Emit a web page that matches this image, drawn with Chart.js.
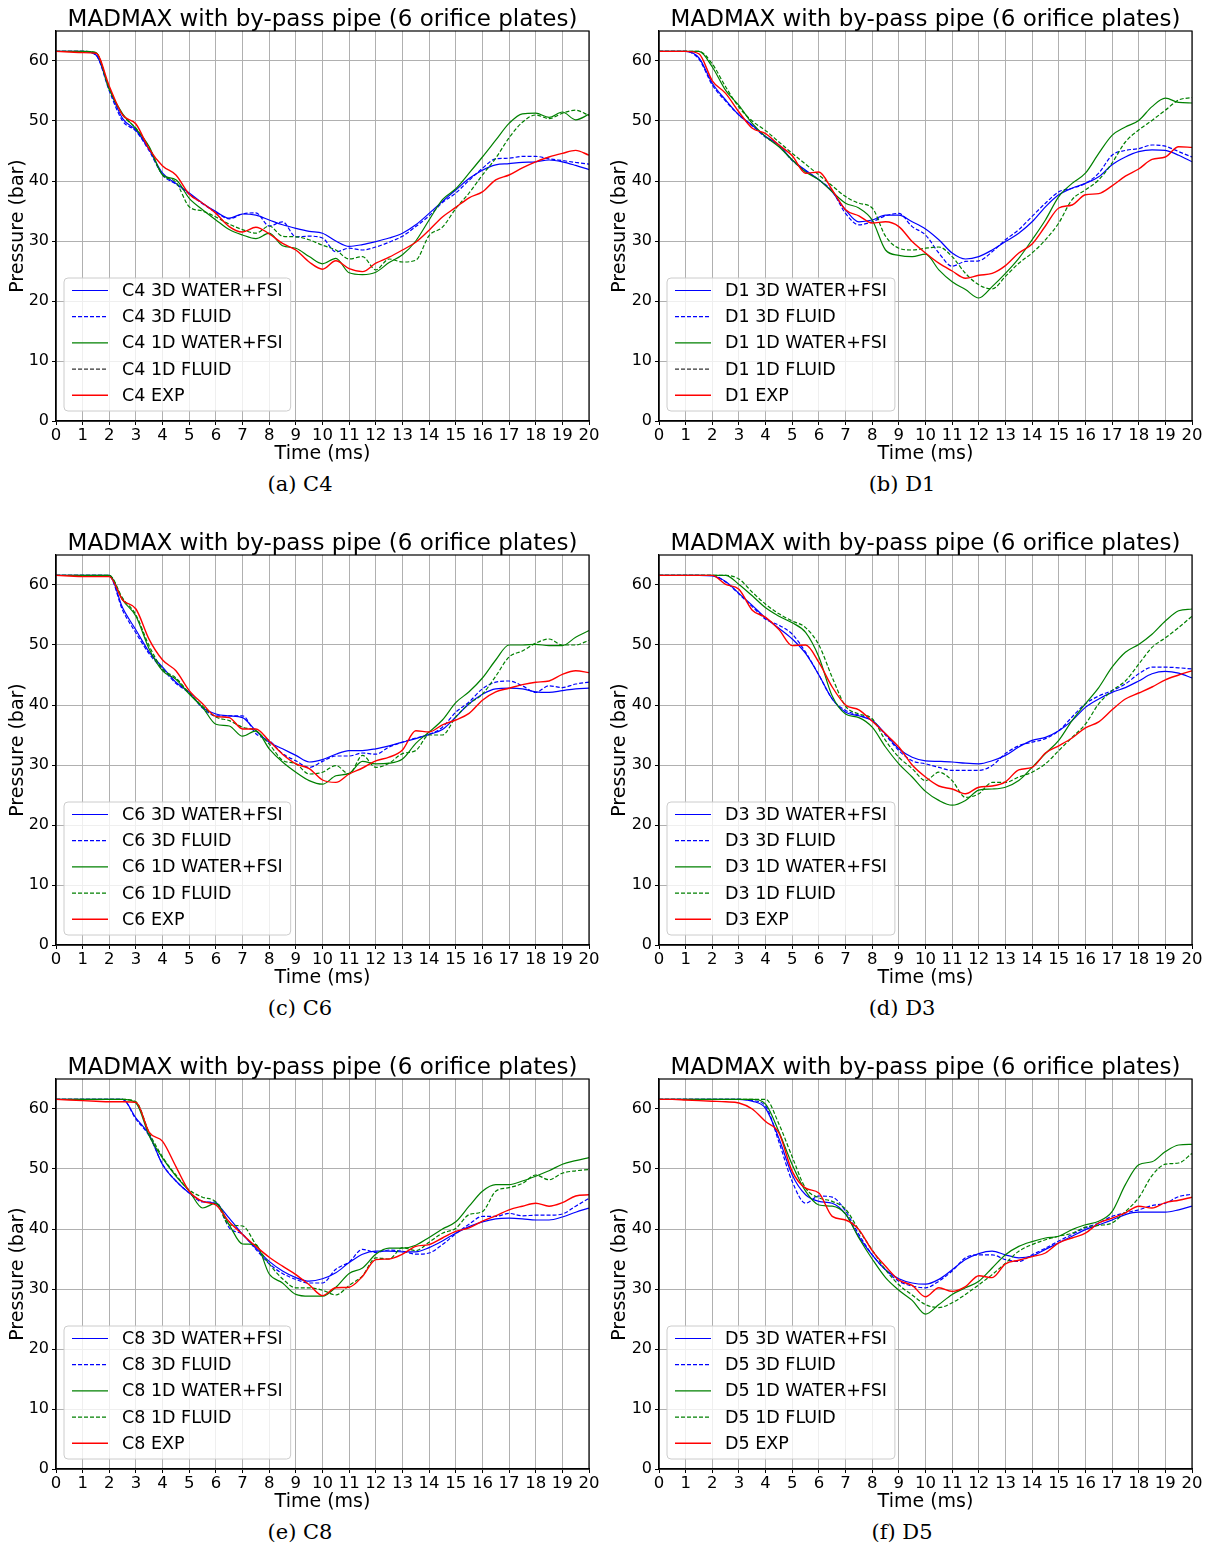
<!DOCTYPE html>
<html>
<head>
<meta charset="utf-8">
<script src="https://cdn.jsdelivr.net/npm/chart.js@4.4.1/dist/chart.umd.min.js"></script>
<style>
  body { margin: 0; background: #fff; width: 1212px; height: 1546px; position: relative; overflow: hidden; }
  canvas { position: absolute; }
  .ttl { position: absolute; font-family: "DejaVu Sans"; font-size: 23px; line-height: 23px; white-space: nowrap; transform: translateX(-50%); color: #000; }
  .cap { position: absolute; font-family: "DejaVu Serif"; font-size: 21px; line-height: 21px; white-space: nowrap; transform: translateX(-50%); color: #000; }
</style>
</head>
<body>
<script>
// sample times (ms), one value every 0.5 ms
const times = [0,0.5,1,1.5,2,2.5,3,3.5,4,4.5,5,5.5,6,6.5,7,7.5,8,8.5,9,9.5,10,10.5,11,11.5,12,12.5,13,13.5,14,14.5,15,15.5,16,16.5,17,17.5,18,18.5,19,19.5,20];
const xTicks = [0,1,2,3,4,5,6,7,8,9,10,11,12,13,14,15,16,17,18,19,20];
const yTicks = [0,10,20,30,40,50,60];
const seriesNames = ["3D WATER+FSI", "3D FLUID", "1D WATER+FSI", "1D FLUID", "EXP"];
const plotTitle = "MADMAX with by-pass pipe (6 orifice plates)";

// (a) C4
const c4Water3d = [61.6,61.6,61.6,61.0,55.4,50.4,48.5,45.2,41.3,39.6,38.0,36.3,34.9,33.8,34.5,34.3,33.5,32.7,32.1,31.6,31.3,30.0,29.1,29.4,29.9,30.5,31.3,32.7,34.6,36.6,38.5,40.4,41.8,42.7,42.9,43.1,43.2,43.5,43.2,42.6,41.9];
const c4Fluid3d = [61.6,61.6,61.6,61.0,55.0,50.0,48.3,45.0,41.0,39.5,37.8,36.2,34.8,33.7,34.5,34.7,32.5,33.2,30.7,30.8,30.5,28.2,28.8,28.5,29.0,29.8,30.8,32.4,34.2,36.4,38.0,40.1,42.1,43.7,43.8,44.1,44.1,43.7,43.4,43.1,42.8];
const c4Water1d = [61.6,61.6,61.6,61.4,55.3,51.2,48.7,45.7,41.0,40.2,37.1,35.2,33.5,31.9,31.0,30.4,31.3,29.2,28.8,27.4,26.2,27.1,24.7,24.4,24.8,26.4,27.7,30.0,33.5,36.9,38.7,41.3,44.0,46.8,49.6,51.2,51.3,50.6,51.5,50.2,51.1];
const c4Fluid1d = [61.6,61.6,61.6,61.4,55.3,51.0,48.8,45.5,41.0,39.8,35.7,35.0,34.0,32.8,31.9,31.3,32.5,30.8,30.7,30.2,29.3,28.5,27.0,27.4,25.2,27.0,26.5,26.8,30.9,32.3,35.4,38.0,41.0,43.8,47.2,49.8,51.0,50.4,51.3,51.8,50.9];
const c4Exp = [61.6,61.5,61.4,61.3,55.8,51.0,49.5,45.3,42.5,41.0,37.8,36.3,34.6,32.4,31.5,32.3,31.2,29.6,28.5,26.5,25.3,26.7,25.4,24.9,26.3,27.3,28.5,29.8,31.8,34.0,35.6,37.2,38.2,40.2,41.0,42.2,43.2,44.0,44.6,45.1,44.3];

// (b) D1
const d1Water3d = [61.6,61.6,61.6,60.5,56.3,53.5,51.0,49.3,47.4,46.0,43.5,41.8,40.2,38.2,35.2,33.2,33.5,34.3,34.3,33.2,32.0,30.2,28.0,27.0,27.4,28.5,29.9,31.3,33.2,35.7,37.7,38.8,39.6,40.7,42.7,44.0,44.9,45.2,45.1,44.3,43.2];
const d1Fluid3d = [61.6,61.6,61.6,60.3,56.0,53.3,51.0,49.2,47.3,45.9,43.4,41.7,40.2,38.3,34.6,32.7,33.2,34.2,34.6,32.4,31.0,28.0,25.8,26.6,26.7,28.2,30.2,31.9,34.1,36.3,38.2,38.8,39.6,41.3,44.3,45.1,45.4,46.0,45.8,44.9,44.0];
const d1Water1d = [61.6,61.6,61.6,61.6,59.0,55.1,52.6,49.6,47.4,45.7,43.5,41.5,40.2,38.2,36.3,35.5,33.5,28.5,27.6,27.4,27.8,25.2,23.2,21.9,20.5,22.4,24.6,27.1,30.2,33.5,37.4,39.6,41.3,44.6,47.6,49.0,50.1,52.4,53.8,53.1,53.0];
const d1Fluid1d = [61.6,61.6,61.6,61.6,59.5,55.7,52.3,50.0,48.4,46.5,44.6,42.8,41.0,39.2,37.4,36.3,35.5,30.8,28.8,28.5,28.8,29.0,27.4,24.6,22.7,22.0,24.1,26.3,28.0,30.2,33.0,36.9,38.5,40.2,43.0,46.5,48.5,50.1,51.8,53.5,53.9];
const d1Exp = [61.6,61.6,61.6,61.2,56.7,54.6,51.5,48.8,47.9,46.0,44.2,41.3,41.5,38.5,35.2,34.2,33.0,33.2,32.4,29.9,28.0,26.3,25.0,23.8,24.3,24.6,25.9,28.0,29.5,32.5,35.5,36.0,37.7,37.9,39.2,40.8,42.0,43.6,44.0,45.7,45.6];

// (c) C6
const c6Water3d = [61.6,61.6,61.6,61.6,61.6,56.2,52.5,48.8,46.3,43.8,42.1,39.6,38.5,38.2,37.9,35.7,33.8,32.7,31.6,30.5,30.9,31.8,32.4,32.4,32.7,33.2,33.8,34.4,35.1,35.9,38.0,40.2,41.8,42.7,42.8,42.7,42.2,42.1,42.4,42.7,42.8];
const c6Fluid3d = [61.6,61.6,61.6,61.6,61.5,55.8,52.0,48.5,46.0,43.6,42.0,39.5,38.2,38.2,38.2,35.2,34.1,31.9,30.7,29.6,30.6,31.5,31.5,32.0,31.8,33.0,33.8,34.5,35.1,36.3,38.8,40.5,42.7,43.8,44.0,43.2,42.1,43.2,42.9,43.5,43.8];
const c6Water1d = [61.6,61.6,61.6,61.6,61.6,57.5,54.8,49.3,45.7,44.3,41.8,39.6,36.8,36.5,34.8,35.7,32.7,30.5,28.8,27.4,26.8,28.2,28.6,30.6,30.2,30.3,31.0,33.6,35.5,37.5,40.4,42.2,44.5,47.5,50.0,50.0,50.1,49.9,49.9,51.3,52.4];
const c6Fluid1d = [61.6,61.6,61.6,61.6,61.6,57.8,55.0,49.8,46.0,44.5,42.0,39.8,38.0,37.4,36.3,35.7,33.5,30.8,30.2,28.5,28.8,29.9,28.5,31.6,29.6,30.3,31.9,32.4,35.0,35.0,38.0,40.2,41.8,44.8,48.0,49.0,50.3,51.0,50.0,50.0,50.8];
const c6Exp = [61.6,61.5,61.4,61.4,61.4,57.5,56.0,50.9,47.5,45.7,42.4,40.2,38.1,37.9,36.0,36.0,34.0,31.8,30.2,29.4,27.5,27.1,28.5,29.5,30.7,31.3,32.5,35.7,35.5,36.7,37.5,38.6,40.8,42.2,42.8,43.4,43.8,44.0,45.1,45.7,45.4];

// (d) D3
const d3Water3d = [61.6,61.6,61.6,61.6,61.5,60.6,58.6,56.6,54.5,52.8,51.0,48.6,45.0,41.0,38.8,38.2,37.4,35.2,32.7,31.3,30.7,30.6,30.5,30.3,30.2,30.7,31.6,33.0,34.1,34.6,35.7,37.4,39.6,41.0,42.1,42.9,44.0,45.2,45.6,45.3,44.5];
const d3Fluid3d = [61.6,61.6,61.6,61.6,61.6,60.5,58.5,56.4,54.3,53.3,51.8,48.8,45.0,41.0,39.1,38.3,37.4,35.0,32.4,30.7,30.2,29.6,29.1,29.1,29.1,29.9,31.9,33.2,33.8,34.4,35.7,38.0,40.2,41.5,42.4,43.5,45.2,46.3,46.3,46.2,46.0];
const d3Water1d = [61.6,61.6,61.6,61.6,61.6,61.6,60.1,58.2,56.2,54.8,53.7,52.1,48.0,41.5,38.5,37.9,36.3,33.0,30.2,28.0,25.6,24.1,23.3,24.1,25.8,26.0,26.3,27.4,29.6,31.9,34.1,37.4,40.2,42.9,46.3,48.8,50.1,51.8,54.0,55.7,56.0];
const d3Fluid1d = [61.6,61.6,61.6,61.6,61.6,61.6,61.0,58.8,56.8,55.2,54.0,52.9,50.0,44.6,39.8,38.5,37.7,34.1,31.3,29.4,27.4,28.8,27.4,24.6,25.2,27.1,27.1,28.0,28.8,30.2,32.4,34.6,36.8,40.2,42.4,44.0,46.8,49.6,51.2,52.9,54.8];
const d3Exp = [61.6,61.6,61.6,61.6,61.6,60.1,59.3,55.8,54.6,52.6,49.9,50.0,47.1,43.0,40.0,39.2,37.3,35.2,33.0,30.0,28.0,26.5,26.0,25.2,26.3,26.5,27.2,29.2,29.6,32.0,33.2,34.5,36.2,37.2,39.2,41.0,42.0,43.0,44.2,45.0,45.7];

// (e) C8
const c8Water3d = [61.6,61.6,61.6,61.6,61.6,61.6,58.5,55.7,50.7,48.0,46.0,44.6,44.2,41.8,39.1,36.8,34.6,33.0,31.9,31.3,31.7,32.7,34.4,35.8,36.3,36.3,36.2,36.2,36.9,38.0,39.3,40.4,41.2,41.7,41.8,41.7,41.5,41.5,42.0,42.8,43.5];
const c8Fluid3d = [61.6,61.6,61.6,61.6,61.6,61.6,58.3,55.5,50.8,48.0,46.0,44.5,44.5,40.2,39.1,36.6,34.2,32.6,31.6,31.0,31.0,33.3,34.5,36.6,36.1,36.5,36.3,35.8,36.0,37.4,39.2,40.8,42.1,42.1,42.6,42.2,42.3,42.3,42.5,43.8,45.1];
const c8Water1d = [61.6,61.6,61.6,61.6,61.6,61.6,61.0,55.5,51.8,48.8,46.3,43.5,44.3,40.7,37.5,37.4,32.5,31.0,29.1,28.8,28.8,30.3,32.6,33.5,35.8,36.8,36.8,37.3,38.6,40.0,41.2,43.8,46.3,47.4,47.4,48.0,48.8,49.7,50.8,51.4,51.9];
const c8Fluid1d = [61.6,61.6,61.6,61.6,61.6,61.6,61.2,56.0,52.0,49.0,46.5,45.3,44.5,40.7,40.5,37.4,34.2,31.7,30.2,30.2,29.8,29.0,30.6,32.2,35.2,35.0,36.9,36.4,37.8,39.3,40.1,42.4,42.9,46.3,46.9,47.6,49.0,48.2,49.3,49.7,49.9];
const c8Exp = [61.6,61.5,61.4,61.3,61.2,61.2,61.1,56.1,54.6,50.4,46.3,44.6,44.0,41.2,39.1,37.1,35.3,33.8,32.4,30.7,28.9,30.2,30.3,32.1,34.9,35.0,35.8,37.1,37.4,38.5,39.6,40.2,41.3,42.2,43.2,43.8,44.3,43.8,44.4,45.5,45.7];

// (f) D5
const d5Water3d = [61.6,61.6,61.6,61.6,61.6,61.6,61.6,61.3,60.1,55.1,49.0,45.7,44.6,44.3,42.5,38.7,35.7,33.2,31.7,31.0,30.8,31.6,33.2,34.9,35.9,36.3,35.7,35.2,35.5,36.6,37.7,38.8,39.9,40.7,41.5,42.4,42.8,42.8,42.8,43.2,43.8];
const d5Fluid3d = [61.6,61.6,61.6,61.6,61.6,61.6,61.6,61.4,60.5,54.5,47.9,44.3,45.5,45.3,43.0,39.1,35.7,33.2,31.3,30.5,30.2,31.3,33.0,35.2,35.7,35.7,34.9,34.6,35.7,36.8,38.0,39.1,40.2,41.0,42.1,42.7,43.2,43.9,44.3,45.4,45.8];
const d5Water1d = [61.6,61.6,61.6,61.6,61.6,61.6,61.6,61.6,60.8,56.2,50.7,46.3,44.0,43.8,42.5,38.5,35.0,31.9,29.8,28.1,25.8,27.4,29.1,30.2,31.3,33.5,35.7,37.1,37.9,38.5,38.8,39.9,40.7,41.3,42.9,47.4,50.7,51.2,52.9,54.0,54.1];
const d5Fluid1d = [61.6,61.6,61.6,61.6,61.6,61.6,61.6,61.6,61.6,57.5,52.0,46.8,45.2,44.6,43.3,39.8,36.5,33.2,30.7,29.0,27.4,26.9,27.7,29.1,30.7,32.4,34.3,36.3,37.4,38.2,38.8,39.3,40.3,40.6,41.0,42.9,45.2,48.9,50.8,51.0,52.6];
const d5Exp = [61.6,61.6,61.5,61.4,61.3,61.2,61.0,60.0,57.9,56.0,49.6,46.8,46.0,42.1,41.5,39.9,36.4,33.8,31.5,30.6,28.7,30.2,29.6,30.4,32.2,31.9,34.2,34.8,35.4,36.0,37.7,38.5,39.3,41.0,41.8,42.7,43.8,43.5,44.4,44.8,45.3];

const panels = [
  { name: "C4", caption: "(a) C4", col: 0, row: 0, values: [c4Water3d, c4Fluid3d, c4Water1d, c4Fluid1d, c4Exp], fluidKey: "#333333" },
  { name: "D1", caption: "(b) D1", col: 1, row: 0, values: [d1Water3d, d1Fluid3d, d1Water1d, d1Fluid1d, d1Exp], fluidKey: "#333333" },
  { name: "C6", caption: "(c) C6", col: 0, row: 1, values: [c6Water3d, c6Fluid3d, c6Water1d, c6Fluid1d, c6Exp] },
  { name: "D3", caption: "(d) D3", col: 1, row: 1, values: [d3Water3d, d3Fluid3d, d3Water1d, d3Fluid1d, d3Exp] },
  { name: "C8", caption: "(e) C8", col: 0, row: 2, values: [c8Water3d, c8Fluid3d, c8Water1d, c8Fluid1d, c8Exp] },
  { name: "D5", caption: "(f) D5", col: 1, row: 2, values: [d5Water3d, d5Fluid3d, d5Water1d, d5Fluid1d, d5Exp] }
];

const styles = [
  { color: "#0000ff", dash: [], width: 1.2 },
  { color: "#0000ff", dash: [4, 2], width: 1.2 },
  { color: "#008000", dash: [], width: 1.2 },
  { color: "#008000", dash: [4, 2], width: 1.2 },
  { color: "#ff0000", dash: [], width: 1.4 }
];

const colLeft = [0, 606];
const rowTop = [0, 524, 1048];
const yAxisW = [56, 53];
const yTitlePad = [7, 3];
const rightPad = [17, 20];
const canvasW = 606, canvasH = 470, plotBottom = 421;

Chart.defaults.font.family = "'DejaVu Sans'";
Chart.defaults.color = "#000";

const framePlugin = {
  id: "frame",
  afterDatasetsDraw(chart) {
    const { ctx, chartArea: a } = chart;
    ctx.save();
    ctx.strokeStyle = "#000";
    ctx.lineWidth = 1.2;
    ctx.strokeRect(a.left, a.top, a.right - a.left, a.bottom - a.top);
    ctx.restore();
  }
};

function legendPlugin(panel) {
  return {
    id: "legendBox",
    afterDraw(chart) {
      const { ctx, chartArea: a } = chart;
      const sets = chart.data.datasets;
      ctx.save();
      ctx.font = "17.5px 'DejaVu Sans'";
      const textW = Math.max(...sets.map(d => ctx.measureText(d.label).width));
      const w = 58 + textW + 8, h = 133;
      const x = a.left + 8, y = a.bottom - 10 - h;
      ctx.beginPath();
      ctx.roundRect(x, y, w, h, 4);
      ctx.fillStyle = "rgba(255,255,255,0.8)";
      ctx.fill();
      ctx.strokeStyle = "#cccccc";
      ctx.lineWidth = 1;
      ctx.stroke();
      sets.forEach((d, i) => {
        const cy = y + 12.5 + i * 26.2;
        ctx.beginPath();
        ctx.strokeStyle = (i === 3 && panel.fluidKey) ? panel.fluidKey : d.borderColor;
        ctx.lineWidth = d.borderWidth;
        ctx.setLineDash(d.borderDash);
        ctx.moveTo(x + 8, cy);
        ctx.lineTo(x + 44, cy);
        ctx.stroke();
        ctx.setLineDash([]);
        ctx.fillStyle = "#000";
        ctx.textBaseline = "middle";
        ctx.fillText(d.label, x + 58, cy + 1);
      });
      ctx.restore();
    }
  };
}

panels.forEach(p => {
  const left = colLeft[p.col], top = rowTop[p.row];
  const cv = document.createElement("canvas");
  cv.width = canvasW; cv.height = canvasH;
  cv.style.left = left + "px"; cv.style.top = top + "px";
  document.body.appendChild(cv);

  const area = { l: left + yAxisW[p.col], r: left + canvasW - rightPad[p.col] };
  const t = document.createElement("div");
  t.className = "ttl";
  t.textContent = plotTitle;
  t.style.left = ((area.l + area.r) / 2) + "px";
  t.style.top = (top + 7) + "px";
  document.body.appendChild(t);

  const c = document.createElement("div");
  c.className = "cap";
  c.textContent = p.caption;
  c.style.left = (left + (p.col === 0 ? 300 : 296)) + "px";
  c.style.top = (top + 474) + "px";
  document.body.appendChild(c);

  new Chart(cv, {
    type: "line",
    data: {
      datasets: p.values.map((vals, i) => ({
        label: p.name + " " + seriesNames[i],
        data: vals.map((v, k) => ({ x: times[k], y: v })),
        borderColor: styles[i].color,
        borderDash: styles[i].dash,
        borderWidth: styles[i].width,
        pointRadius: 0,
        fill: false,
        cubicInterpolationMode: "monotone",
        order: 5 - i
      }))
    },
    options: {
      responsive: false,
      animation: false,
      devicePixelRatio: 1,
      layout: { padding: { top: 31, right: rightPad[p.col], left: 0, bottom: 0 } },
      plugins: { legend: { display: false }, title: { display: false }, tooltip: { enabled: false } },
      scales: {
        x: {
          type: "linear", min: 0, max: 20,
          afterBuildTicks: s => { s.ticks = xTicks.map(v => ({ value: v })); },
          afterFit: s => { s.height = canvasH - plotBottom; },
          ticks: { autoSkip: false, maxRotation: 0, minRotation: 0, color: "#000", font: { size: 16.5 }, padding: 1 },
          grid: { color: "#b0b0b0", lineWidth: 1, tickLength: 4, tickColor: "#000" },
          border: { color: "#000", width: 1.2 },
          title: { display: true, text: "Time (ms)", color: "#000", font: { size: 19 }, padding: { top: 0, bottom: 5 } }
        },
        y: {
          min: 0, max: 65,
          afterBuildTicks: s => { s.ticks = yTicks.map(v => ({ value: v })); },
          afterFit: s => { s.width = yAxisW[p.col]; },
          ticks: { color: "#000", font: { size: 16 }, padding: 3 },
          grid: { color: "#b0b0b0", lineWidth: 1, tickLength: 4, tickColor: "#000" },
          border: { color: "#000", width: 1.2 },
          title: { display: true, text: "Pressure (bar)", color: "#000", font: { size: 19 }, padding: { top: yTitlePad[p.col], bottom: 0 } }
        }
      }
    },
    plugins: [framePlugin, legendPlugin(p)]
  });
});
</script>
</body>
</html>
